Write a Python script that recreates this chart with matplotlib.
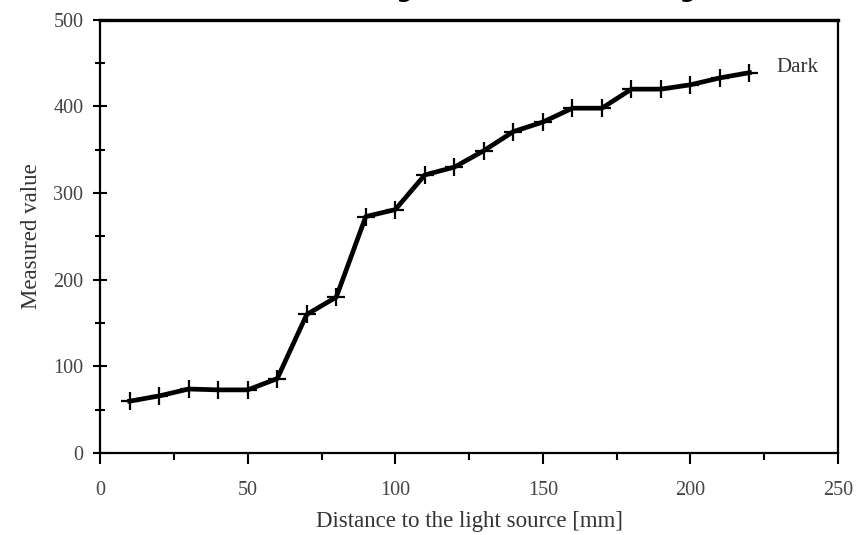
import matplotlib.pyplot as plt
from matplotlib.ticker import MultipleLocator

plt.rcParams['font.family'] = ['Liberation Serif', 'DejaVu Serif']

distance = [10, 20, 30, 40, 50, 60, 70, 80, 90, 100, 110,
            120, 130, 140, 150, 160, 170, 180, 190, 200, 210, 220]
measured = [60, 66, 74, 73, 73, 86, 160, 180, 273, 281, 321,
            330, 349, 371, 382, 398, 398, 420, 420, 425, 433, 439]
series_label = "Dark"

fig = plt.figure(figsize=(8.56, 5.35), dpi=100)
ax = fig.add_axes([0.117, 0.153, 0.862, 0.81])

ax.plot(distance, measured, color='black', lw=3.4, marker='+',
        markersize=13, markeredgewidth=1.6)
ax.text(distance[-1] + 9, measured[-1] + 6, series_label, fontsize=15,
        color='#333333', va='center', ha='left')

ax.set_xlim(0, 250)
ax.set_ylim(0, 500)
ax.xaxis.set_major_locator(MultipleLocator(50))
ax.xaxis.set_minor_locator(MultipleLocator(25))
ax.yaxis.set_major_locator(MultipleLocator(100))
ax.yaxis.set_minor_locator(MultipleLocator(50))

ax.tick_params(axis='x', which='major', direction='out', length=8, width=1.5,
               labelsize=14.5, labelcolor='#444444', pad=12)
ax.tick_params(axis='x', which='minor', direction='out', length=5, width=1.5)
ax.tick_params(axis='y', which='major', direction='inout', length=10, width=1.5,
               labelsize=14.5, labelcolor='#444444', pad=7)
ax.tick_params(axis='y', which='minor', direction='inout', length=7, width=1.5)

for s in ax.spines.values():
    s.set_linewidth(1.6)
ax.spines['top'].set_linewidth(2.4)

ax.set_xlabel('Distance to the light source [mm]', fontsize=16.5,
              color='#333333', labelpad=8)
ax.set_ylabel('Measured value', fontsize=16.5, color='#333333', labelpad=8)

fig.text(0.549, 1.005, 'Sensor reading versus distance to light', fontsize=16.4,
         fontweight='bold', family='DejaVu Sans', ha='center', va='baseline')

fig.savefig('out.png', dpi=100)
